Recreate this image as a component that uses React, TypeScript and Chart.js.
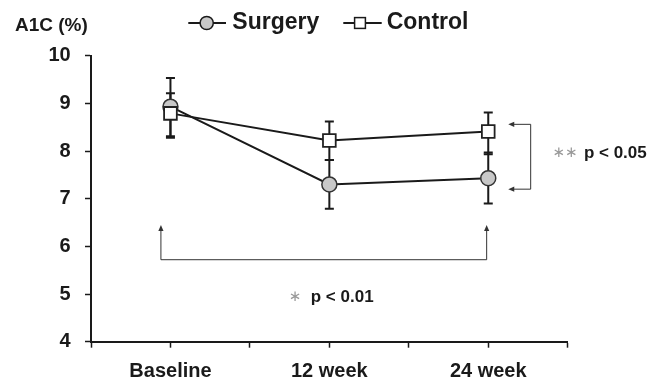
import { useEffect, useRef } from 'react';
import { Chart, registerables } from 'chart.js';

Chart.register(...registerables);

// ---- data ----
const categories = ['Baseline', '12 week', '24 week'];
const surgeryMean = [8.93, 7.3, 7.43];
const surgeryLow = [8.31, 6.79, 6.9];
const surgeryHigh = [9.53, 7.81, 7.97];
const controlMean = [8.79, 8.22, 8.41];
const controlLow = [8.28, 7.81, 7.93];
const controlHigh = [9.21, 8.62, 8.81];
const yTickValues = [4, 5, 6, 7, 8, 9, 10];
const seriesNames = ['Surgery', 'Control'];
const axisTitle = 'A1C (%)';
const pTextOverall = 'p < 0.01';
const pTextGroup = 'p < 0.05';

// annotation anchors in data space
const bracketX = [-0.06, 1.99];
const bracketYBase = 5.72;
const bracketYTip = 6.45;
const sideBracketX = 2.267;
const sideArrowTipX = 2.126;
const sideBracketY = [8.56, 7.2];
const overallStarX = 0.784;
const overallTextX = 0.883;
const overallTextY = 4.94;
const groupStarX = 2.483;
const groupTextX = 2.602;
const groupTextY = 7.95;

const FONT = '"Liberation Sans", Arial, Helvetica, sans-serif';
const INK = '#1a1a1a';

function arrow(ctx: CanvasRenderingContext2D, x1: number, y1: number, x2: number, y2: number) {
  const ang = Math.atan2(y2 - y1, x2 - x1);
  const len = 6;
  const hw = 2.6;
  ctx.beginPath();
  ctx.moveTo(x1, y1);
  ctx.lineTo(x2 - Math.cos(ang) * len * 0.8, y2 - Math.sin(ang) * len * 0.8);
  ctx.stroke();
  ctx.beginPath();
  ctx.moveTo(x2, y2);
  ctx.lineTo(x2 - Math.cos(ang) * len - Math.sin(ang) * hw, y2 - Math.sin(ang) * len + Math.cos(ang) * hw);
  ctx.lineTo(x2 - Math.cos(ang) * len + Math.sin(ang) * hw, y2 - Math.sin(ang) * len - Math.cos(ang) * hw);
  ctx.closePath();
  ctx.fill();
}

const errorBarPlugin = {
  id: 'errorBars',
  beforeDatasetsDraw(chart: any) {
    const { ctx, scales } = chart;
    const x = scales.x;
    const y = scales.y;
    ctx.save();
    ctx.strokeStyle = INK;
    ctx.lineWidth = 2;
    const sets = [
      [surgeryLow, surgeryHigh],
      [controlLow, controlHigh],
    ];
    sets.forEach(([lo, hi]) => {
      lo.forEach((l, i) => {
        const px = x.getPixelForValue(i);
        const p1 = y.getPixelForValue(l);
        const p2 = y.getPixelForValue(hi[i]);
        ctx.beginPath();
        ctx.moveTo(px, p1);
        ctx.lineTo(px, p2);
        ctx.moveTo(px - 4.5, p1);
        ctx.lineTo(px + 4.5, p1);
        ctx.moveTo(px - 4.5, p2);
        ctx.lineTo(px + 4.5, p2);
        ctx.stroke();
      });
    });
    ctx.restore();
  },
};

const annotationPlugin = {
  id: 'annotations',
  afterDraw(chart: any) {
    const { ctx, scales } = chart;
    const x = scales.x;
    const y = scales.y;
    ctx.save();

    // bottom bracket
    ctx.strokeStyle = '#333';
    ctx.fillStyle = '#333';
    ctx.lineWidth = 1;
    const bl = x.getPixelForValue(bracketX[0]);
    const br = x.getPixelForValue(bracketX[1]);
    const by = y.getPixelForValue(bracketYBase);
    const bt = y.getPixelForValue(bracketYTip);
    ctx.beginPath();
    ctx.moveTo(bl, by);
    ctx.lineTo(br, by);
    ctx.stroke();
    arrow(ctx, bl, by, bl, bt);
    arrow(ctx, br, by, br, bt);

    // side bracket
    const sx = x.getPixelForValue(sideBracketX);
    const tx = x.getPixelForValue(sideArrowTipX);
    const sy1 = y.getPixelForValue(sideBracketY[0]);
    const sy2 = y.getPixelForValue(sideBracketY[1]);
    ctx.beginPath();
    ctx.moveTo(sx, sy1);
    ctx.lineTo(sx, sy2);
    ctx.stroke();
    arrow(ctx, sx, sy1, tx, sy1);
    arrow(ctx, sx, sy2, tx, sy2);

    // p-value texts
    ctx.textBaseline = 'middle';
    ctx.fillStyle = '#999999';
    ctx.font = '15px "DejaVu Sans", sans-serif';
    ctx.textAlign = 'center';
    ctx.fillText('\u2217', x.getPixelForValue(overallStarX), y.getPixelForValue(overallTextY));
    ctx.fillText('\u2217\u2217', x.getPixelForValue(groupStarX), y.getPixelForValue(groupTextY));
    ctx.fillStyle = INK;
    ctx.font = `bold 17px ${FONT}`;
    ctx.textAlign = 'left';
    ctx.fillText(pTextOverall, x.getPixelForValue(overallTextX), y.getPixelForValue(overallTextY));
    ctx.fillText(pTextGroup, x.getPixelForValue(groupTextX), y.getPixelForValue(groupTextY));

    // axis title
    ctx.font = `bold 19px ${FONT}`;
    ctx.fillText(axisTitle, 15, 25.5);

    // legend
    ctx.strokeStyle = INK;
    ctx.lineWidth = 2;
    ctx.beginPath();
    ctx.moveTo(188.3, 23);
    ctx.lineTo(226, 23);
    ctx.moveTo(343.3, 23);
    ctx.lineTo(381.7, 23);
    ctx.stroke();
    ctx.lineWidth = 1.5;
    ctx.fillStyle = '#c8c8c8';
    ctx.beginPath();
    ctx.arc(206.7, 23, 6.6, 0, Math.PI * 2);
    ctx.fill();
    ctx.stroke();
    ctx.fillStyle = '#ffffff';
    ctx.fillRect(354.6, 17.6, 10.8, 10.8);
    ctx.strokeRect(354.6, 17.6, 10.8, 10.8);
    ctx.fillStyle = INK;
    ctx.font = `bold 23px ${FONT}`;
    ctx.fillText(seriesNames[0], 232.3, 23);
    ctx.fillText(seriesNames[1], 386.7, 23);

    ctx.restore();
  },
};

export default function App() {
  const ref = useRef<HTMLCanvasElement | null>(null);

  useEffect(() => {
    if (!ref.current) return;
    const chart = new Chart(ref.current, {
      type: 'line',
      data: {
        datasets: [
          {
            label: seriesNames[0],
            data: surgeryMean.map((v, i) => ({ x: i, y: v })),
            borderColor: INK,
            borderWidth: 2,
            pointStyle: 'circle',
            pointRadius: 7.5,
            pointBackgroundColor: '#c8c8c8',
            pointBorderColor: '#333',
            pointBorderWidth: 1.5,
            order: 2,
          },
          {
            label: seriesNames[1],
            data: controlMean.map((v, i) => ({ x: i, y: v })),
            borderColor: INK,
            borderWidth: 2,
            pointStyle: 'rect',
            pointRadius: 9,
            pointBackgroundColor: '#ffffff',
            pointBorderColor: '#222',
            pointBorderWidth: 1.8,
            order: 1,
          },
        ],
      },
      options: {
        animation: false,
        responsive: false,
        events: [],
        layout: { padding: { top: 55.7, right: 94.3, left: 0, bottom: 0 } },
        plugins: {
          legend: { display: false },
          tooltip: { enabled: false },
          title: { display: false },
        },
        scales: {
          x: {
            type: 'linear',
            min: -0.5,
            max: 2.5,
            afterFit: (s: any) => {
              s.height = 39.3;
            },
            afterBuildTicks: (s: any) => {
              const t = [];
              for (let v = -0.5; v <= 2.5001; v += 0.5) t.push({ value: v });
              s.ticks = t;
            },
            ticks: {
              autoSkip: false,
              maxRotation: 0,
              padding: 12,
              color: INK,
              font: { family: FONT, size: 20, weight: 'bold' },
              callback: (v: any) => (Number.isInteger(v) ? categories[v] : ''),
            },
            grid: {
              drawOnChartArea: false,
              drawTicks: true,
              tickLength: 6,
              tickWidth: 1.5,
              tickColor: INK,
            },
            border: { display: true, color: INK, width: 2 },
          },
          y: {
            type: 'linear',
            min: yTickValues[0],
            max: yTickValues[yTickValues.length - 1],
            afterFit: (s: any) => {
              s.width = 91;
            },
            afterBuildTicks: (s: any) => {
              s.ticks = yTickValues.map((v) => ({ value: v }));
            },
            ticks: {
              padding: 14.3,
              color: INK,
              font: { family: FONT, size: 20, weight: 'bold' },
            },
            grid: {
              drawOnChartArea: false,
              drawTicks: true,
              tickLength: 6,
              tickWidth: 1.5,
              tickColor: INK,
            },
            border: { display: true, color: INK, width: 2 },
          },
        },
      } as any,
      plugins: [errorBarPlugin, annotationPlugin],
    });
    return () => chart.destroy();
  }, []);

  return (
    <div style={{ position: 'fixed', left: 0, top: 0, width: 662, height: 381, background: '#fff' }}>
      <canvas ref={ref} width={662} height={381} style={{ display: 'block', width: 662, height: 381 }} />
    </div>
  );
}
